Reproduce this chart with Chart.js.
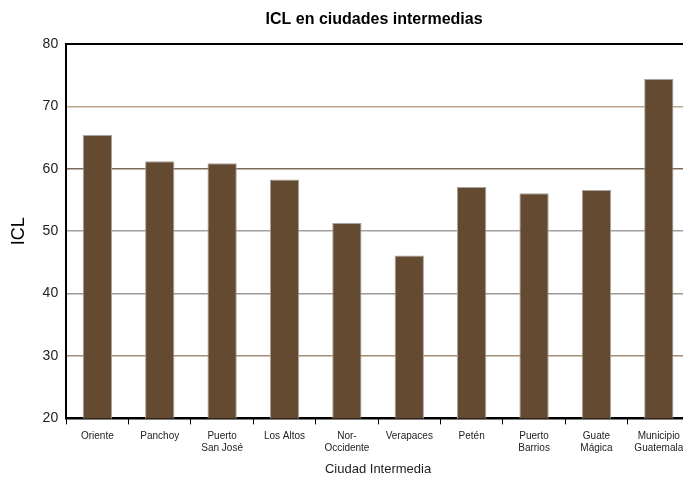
<!DOCTYPE html>
<html>
<head>
<meta charset="utf-8">
<script src="https://cdn.jsdelivr.net/npm/chart.js@4/dist/chart.umd.min.js"></script>
<style>
html,body{margin:0;padding:0;overflow:hidden;background:#fff;}
</style>
</head>
<body>
<canvas id="c" width="690" height="478"></canvas>
<script>
const chartTitle = 'ICL en ciudades intermedias';
const categories = [
  'Oriente', 'Panchoy', ['Puerto', 'San José'], 'Los Altos', ['Nor-', 'Occidente'],
  'Verapaces', 'Petén', ['Puerto', 'Barrios'], ['Guate', 'Mágica'], ['Municipio', 'Guatemala']
];
const iclValues = [65.4, 61.2, 60.9, 58.3, 51.3, 46.1, 57.1, 56.1, 56.6, 74.4];
const yTicks = [20, 30, 40, 50, 60, 70, 80];
const gridColors = { 20: '#000', 30: '#a38d76', 40: '#9c9690', 50: '#a3a09c', 60: '#7f6b59', 70: '#bba690', 80: '#000' };

const titlePlugin = {
  id: 'areaTitle',
  afterDraw(chart) {
    const ctx = chart.ctx, a = chart.chartArea;
    ctx.save();
    ctx.font = 'bold 16px "Liberation Sans", Arial, sans-serif';
    ctx.fillStyle = '#000';
    ctx.textAlign = 'center';
    ctx.textBaseline = 'middle';
    ctx.fillText(chartTitle, (a.left + a.right) / 2 - 4, 20);
    ctx.restore();
  }
};

new Chart(document.getElementById('c'), {
  type: 'bar',
  data: {
    labels: categories,
    datasets: [{
      label: 'ICL',
      data: iclValues,
      backgroundColor: '#644a31',
      borderColor: '#a8a4a0',
      borderWidth: { left: 1, right: 1, top: 1, bottom: 0 },
      borderSkipped: 'bottom',
      barPercentage: 0.47,
      categoryPercentage: 1.0
    }]
  },
  options: {
    responsive: false,
    animation: false,
    devicePixelRatio: 1,
    layout: { padding: { top: 44, right: 0, left: 8, bottom: 1 } },
    plugins: { legend: { display: false }, title: { display: false }, tooltip: { enabled: false } },
    scales: {
      x: {
        offset: true,
        grid: { display: true, drawOnChartArea: false, drawTicks: true, tickLength: 6, color: '#000', lineWidth: 1, offset: true },
        border: { display: true, color: '#000', width: 2 },
        ticks: { color: '#222', font: { family: '"Liberation Sans", Arial, sans-serif', size: 10 }, maxRotation: 0, autoSkip: false, padding: 6 },
        title: { display: true, text: 'Ciudad Intermedia', color: '#222', font: { family: '"Liberation Sans", Arial, sans-serif', size: 13 }, padding: { top: 1, bottom: 0 } }
      },
      y: {
        min: 20, max: 80,
        afterBuildTicks(scale) { scale.ticks = yTicks.map(v => ({ value: v })); },
        grid: {
          drawTicks: false,
          color: ctx => gridColors[ctx.tick.value] || '#999',
          lineWidth: ctx => (ctx.tick.value === 80 ? 2 : 1.5)
        },
        border: { display: true, color: '#000', width: 2 },
        ticks: { color: '#222', font: { family: '"Liberation Sans", Arial, sans-serif', size: 14 }, padding: 8 },
        title: { display: true, text: 'ICL', color: '#000', font: { family: '"Liberation Sans", Arial, sans-serif', size: 18 }, padding: { top: 0, bottom: 5 } }
      }
    }
  },
  plugins: [titlePlugin]
});
</script>
</body>
</html>
